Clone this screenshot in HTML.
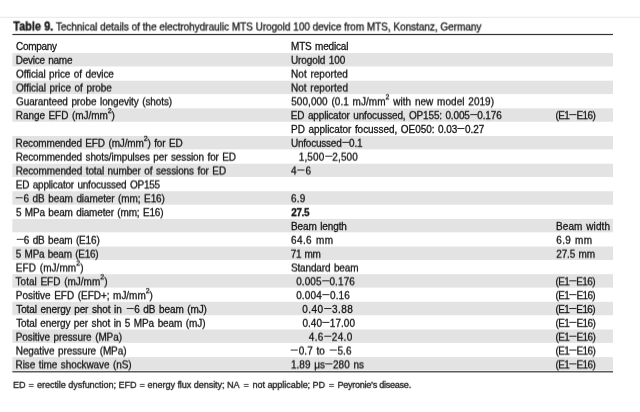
<!DOCTYPE html>
<html><head><meta charset="utf-8"><title>Table 9</title>
<style>
html,body{margin:0;padding:0;background:#fff;}
body{width:640px;height:412px;position:relative;overflow:hidden;font-family:"Liberation Sans",sans-serif;color:#151515;}
svg.bg{position:absolute;left:0;top:0;}
.title{position:absolute;left:13px;top:18px;height:16px;line-height:16px;font-size:10px;white-space:nowrap;letter-spacing:-0.02px;will-change:transform;transform:translate(0.2px,0.5px) rotate(0.0001deg);}
.txt{position:absolute;left:0;top:0;width:640px;height:412px;-webkit-text-stroke:0.28px #151515;}
.title b{font-size:11px;letter-spacing:0;display:inline-block;transform:scaleY(1.14);transform-origin:0 77%;}
.row{position:absolute;left:0;width:640px;height:14px;line-height:14px;font-size:10px;white-space:nowrap;will-change:transform;word-spacing:0.9px;transform-origin:0 10px;}
.row span{position:absolute;top:0;}
sup{font-size:7px;line-height:0;vertical-align:baseline;position:relative;top:-5px;}
i.d{font-style:normal;display:inline-block;transform:translateY(-0.8px) scale(1.2,1.15);margin:0 1.1px;}
i.m{font-style:normal;display:inline-block;transform:translateY(-0.3px) scale(1.35,1.0);margin:0 1.6px;}
.foot span{position:absolute;top:0;}
.foot{position:absolute;left:13px;top:378px;width:420px;height:12px;font-size:9px;line-height:12px;white-space:nowrap;will-change:transform;transform:translate(0.1px,0.9px) rotate(0.0001deg);}
</style></head><body>

<svg class="bg" width="640" height="412" viewBox="0 0 640 412">
<rect x="0" y="16.8" width="640" height="1" fill="#e6e6e6"/>
<rect x="12.35" y="53.07" width="600.65" height="13.4" fill="#e3e3e3"/>
<rect x="12.35" y="80.71" width="600.65" height="13.4" fill="#e3e3e3"/>
<rect x="12.35" y="108.35" width="600.65" height="13.4" fill="#e3e3e3"/>
<rect x="12.35" y="135.99" width="600.65" height="13.4" fill="#e3e3e3"/>
<rect x="12.35" y="163.63" width="600.65" height="13.4" fill="#e3e3e3"/>
<rect x="12.35" y="191.27" width="600.65" height="13.4" fill="#e3e3e3"/>
<rect x="12.35" y="218.91" width="600.65" height="13.4" fill="#e3e3e3"/>
<rect x="12.35" y="246.55" width="600.65" height="13.4" fill="#e3e3e3"/>
<rect x="12.35" y="274.19" width="600.65" height="13.4" fill="#e3e3e3"/>
<rect x="12.35" y="301.83" width="600.65" height="13.4" fill="#e3e3e3"/>
<rect x="12.35" y="329.47" width="600.65" height="13.4" fill="#e3e3e3"/>
<rect x="12.35" y="357.11" width="600.65" height="13.4" fill="#e3e3e3"/>
<rect x="12.35" y="33.9" width="600.65" height="1.2" fill="#333"/>
<rect x="12.35" y="371.2" width="600.65" height="1.2" fill="#333"/>
</svg>
<div class="txt">
<div class="title"><b>Table 9.</b> Technical details of the electrohydraulic MTS Urogold 100 device from MTS, Konstanz, Germany</div>
<div class="row" style="top:39px;transform:translateY(0.50px) rotate(0.0001deg) scaleY(1.05)"><span id="r0x16" style="left:16.08px;letter-spacing:-0.295px">Company</span><span id="r0x291" style="left:291.02px;letter-spacing:-0.187px">MTS medical</span></div>
<div class="row" style="top:53px;transform:translateY(0.35px) rotate(0.0001deg) scaleY(1.05)"><span id="r1x16" style="left:15.68px;letter-spacing:-0.247px">Device name</span><span id="r1x291" style="left:291.00px;letter-spacing:-0.11px">Urogold 100</span></div>
<div class="row" style="top:67px;transform:translateY(0.20px) rotate(0.0001deg) scaleY(1.05)"><span id="r2x16" style="left:15.97px;letter-spacing:-0.104px">Official price of device</span><span id="r2x291" style="left:291.08px;letter-spacing:0.024px">Not reported</span></div>
<div class="row" style="top:81px;transform:translateY(0.04px) rotate(0.0001deg) scaleY(1.05)"><span id="r3x16" style="left:15.88px;letter-spacing:-0.048px">Official price of probe</span><span id="r3x291" style="left:290.88px;letter-spacing:0.06px">Not reported</span></div>
<div class="row" style="top:94px;transform:translateY(0.89px) rotate(0.0001deg) scaleY(1.05)"><span id="r4x16" style="left:16.02px;letter-spacing:-0.102px">Guaranteed probe longevity (shots)</span><span id="r4x291" style="left:291.28px;letter-spacing:0.044px">500,000 (0.1 mJ/mm<sup>2</sup> with new model 2019)</span></div>
<div class="row" style="top:108px;transform:translateY(0.74px) rotate(0.0001deg) scaleY(1.05)"><span id="r5x16" style="left:15.73px;letter-spacing:-0.059px">Range EFD (mJ/mm<sup>2</sup>)</span><span id="r5x291" style="left:290.82px;letter-spacing:-0.156px">ED applicator unfocussed, OP155: 0.005<i class="d">–</i>0.176</span><span id="r5x556" style="left:555.53px;letter-spacing:-0.607px">(E1<i class="d">–</i>E16)</span></div>
<div class="row" style="top:122px;transform:translateY(0.59px) rotate(0.0001deg) scaleY(1.05)"><span id="r6x291" style="left:291.02px;letter-spacing:-0.052px">PD applicator focussed, OE050: 0.03<i class="d">–</i>0.27</span></div>
<div class="row" style="top:136px;transform:translateY(0.44px) rotate(0.0001deg) scaleY(1.05)"><span id="r7x16" style="left:15.56px;letter-spacing:-0.142px">Recommended EFD (mJ/mm<sup>2</sup>) for ED</span><span id="r7x291" style="left:290.88px;letter-spacing:-0.217px">Unfocussed<i class="d">–</i>0.1</span></div>
<div class="row" style="top:150px;transform:translateY(0.28px) rotate(0.0001deg) scaleY(1.05)"><span id="r8x16" style="left:15.67px;letter-spacing:-0.133px">Recommended shots/impulses per session for ED</span><span id="r8x298" style="left:298.76px;letter-spacing:0.131px">1,500<i class="d">–</i>2,500</span></div>
<div class="row" style="top:164px;transform:translateY(0.13px) rotate(0.0001deg) scaleY(1.05)"><span id="r9x16" style="left:15.69px;letter-spacing:-0.121px">Recommended total number of sessions for ED</span><span id="r9x291" style="left:291.05px;letter-spacing:0.508px">4<i class="d">–</i>6</span></div>
<div class="row" style="top:177px;transform:translateY(0.98px) rotate(0.0001deg) scaleY(1.05)"><span id="r10x16" style="left:15.82px;letter-spacing:-0.214px">ED applicator unfocussed OP155</span></div>
<div class="row" style="top:191px;transform:translateY(0.83px) rotate(0.0001deg) scaleY(1.05)"><span id="r11x16" style="left:14.60px;letter-spacing:-0.097px"><i class="m">−</i>6 dB beam diameter (mm; E16)</span><span id="r11x291" style="left:291.08px;letter-spacing:0.145px">6.9</span></div>
<div class="row" style="top:205px;transform:translateY(0.68px) rotate(0.0001deg) scaleY(1.05)"><span id="r12x16" style="left:15.88px;letter-spacing:-0.165px">5 MPa beam diameter (mm; E16)</span><span id="r12x291" style="left:291.37px;letter-spacing:-0.429px"><b>27.5</b></span></div>
<div class="row" style="top:219px;transform:translateY(0.52px) rotate(0.0001deg) scaleY(1.05)"><span id="r13x291" style="left:290.98px;letter-spacing:-0.114px">Beam length</span><span id="r13x556" style="left:556.04px;letter-spacing:0.092px">Beam width</span></div>
<div class="row" style="top:233px;transform:translateY(0.37px) rotate(0.0001deg) scaleY(1.05)"><span id="r14x16" style="left:14.96px;letter-spacing:-0.17px"><i class="m">−</i>6 dB beam (E16)</span><span id="r14x291" style="left:291.10px;letter-spacing:0.361px">64.6 mm</span><span id="r14x556" style="left:556.31px;letter-spacing:0.309px">6.9 mm</span></div>
<div class="row" style="top:247px;transform:translateY(0.22px) rotate(0.0001deg) scaleY(1.05)"><span id="r15x16" style="left:15.83px;letter-spacing:-0.257px">5 MPa beam (E16)</span><span id="r15x291" style="left:290.84px;letter-spacing:-0.343px">71 mm</span><span id="r15x556" style="left:556.22px;letter-spacing:-0.154px">27.5 mm</span></div>
<div class="row" style="top:261px;transform:translateY(0.07px) rotate(0.0001deg) scaleY(1.05)"><span id="r16x16" style="left:15.83px;letter-spacing:0.059px">EFD (mJ/mm<sup>2</sup>)</span><span id="r16x291" style="left:290.88px;letter-spacing:-0.138px">Standard beam</span></div>
<div class="row" style="top:274px;transform:translateY(0.92px) rotate(0.0001deg) scaleY(1.05)"><span id="r17x16" style="left:15.61px;letter-spacing:0.006px">Total EFD (mJ/mm<sup>2</sup>)</span><span id="r17x296" style="left:296.13px;letter-spacing:0.092px">0.005<i class="d">–</i>0.176</span><span id="r17x556" style="left:555.43px;letter-spacing:-0.611px">(E1<i class="d">–</i>E16)</span></div>
<div class="row" style="top:288px;transform:translateY(0.76px) rotate(0.0001deg) scaleY(1.05)"><span id="r18x16" style="left:15.83px;letter-spacing:-0.037px">Positive EFD (EFD+; mJ/mm<sup>2</sup>)</span><span id="r18x296" style="left:296.14px;letter-spacing:0.17px">0.004<i class="d">–</i>0.16</span><span id="r18x556" style="left:555.48px;letter-spacing:-0.608px">(E1<i class="d">–</i>E16)</span></div>
<div class="row" style="top:302px;transform:translateY(0.61px) rotate(0.0001deg) scaleY(1.05)"><span id="r19x16" style="left:16.24px;letter-spacing:-0.087px">Total energy per shot in <i class="m">−</i>6 dB beam (mJ)</span><span id="r19x301" style="left:302.29px;letter-spacing:0.48px">0.40<i class="d">–</i>3.88</span><span id="r19x556" style="left:555.49px;letter-spacing:-0.618px">(E1<i class="d">–</i>E16)</span></div>
<div class="row" style="top:316px;transform:translateY(0.46px) rotate(0.0001deg) scaleY(1.05)"><span id="r20x16" style="left:16.16px;letter-spacing:-0.104px">Total energy per shot in 5 MPa beam (mJ)</span><span id="r20x301" style="left:302.40px;letter-spacing:0.039px">0.40<i class="d">–</i>17.00</span><span id="r20x556" style="left:555.48px;letter-spacing:-0.588px">(E1<i class="d">–</i>E16)</span></div>
<div class="row" style="top:330px;transform:translateY(0.31px) rotate(0.0001deg) scaleY(1.05)"><span id="r21x16" style="left:15.71px;letter-spacing:-0.101px">Positive pressure (MPa)</span><span id="r21x307" style="left:308.83px;letter-spacing:0.332px">4.6<i class="d">–</i>24.0</span><span id="r21x556" style="left:555.49px;letter-spacing:-0.575px">(E1<i class="d">–</i>E16)</span></div>
<div class="row" style="top:344px;transform:translateY(0.16px) rotate(0.0001deg) scaleY(1.05)"><span id="r22x16" style="left:15.81px;letter-spacing:-0.104px">Negative pressure (MPa)</span><span id="r22x291" style="left:289.73px;letter-spacing:0.015px"><i class="m">−</i>0.7 to <i class="m">−</i>5.6</span><span id="r22x556" style="left:555.48px;letter-spacing:-0.585px">(E1<i class="d">–</i>E16)</span></div>
<div class="row" style="top:358px;transform:translateY(0.00px) rotate(0.0001deg) scaleY(1.05)"><span id="r23x16" style="left:15.55px;letter-spacing:-0.097px">Rise time shockwave (nS)</span><span id="r23x291" style="left:290.90px;letter-spacing:0.049px">1.89 μs<i class="d">–</i>280 ns</span><span id="r23x556" style="left:555.43px;letter-spacing:-0.569px">(E1<i class="d">–</i>E16)</span></div>
<div class="foot"><span style="left:0.1px">ED</span> <span style="left:15.5px">=</span> <span style="left:24.0px;letter-spacing:-0.03px">erectile dysfunction;</span> <span style="left:105.4px">EFD</span> <span style="left:126.5px">=</span> <span style="left:134.6px;letter-spacing:-0.03px">energy flux density;</span> <span style="left:214.1px">NA</span> <span style="left:230.5px">=</span> <span style="left:239.5px;letter-spacing:-0.03px">not applicable;</span> <span style="left:299.5px">PD</span> <span style="left:315.8px">=</span> <span style="left:324.4px;letter-spacing:-0.23px">Peyronie’s disease.</span> </div>
</div>
</body></html>
